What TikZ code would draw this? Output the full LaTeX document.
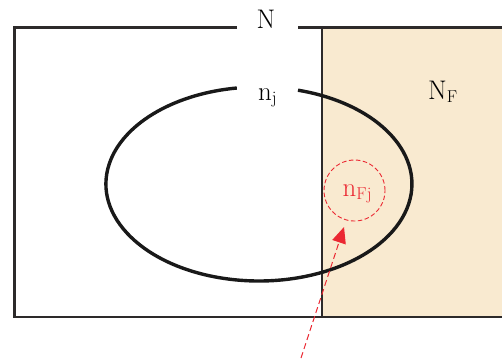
\documentclass[tikz,border=0pt]{standalone}
\usetikzlibrary{arrows.meta}
\definecolor{beige}{RGB}{249,234,208}
\definecolor{frame}{RGB}{45,42,42}
\definecolor{redc}{RGB}{235,40,50}
\tikzset{
  lbl/.style={font=\fontsize{27}{32}\selectfont, inner sep=0pt},
  redlbl/.style={lbl, text=redc},
}
\begin{document}
\begin{tikzpicture}[x=1bp,y=-1bp]
\useasboundingbox (0,0) rectangle (502,361);
\fill[beige] (322,28) rectangle (503,316);
% outer frame with gap
\draw[frame, line width=2.6bp] (237,27.5) -- (14.5,27.5) -- (14.5,317) -- (503,317);
\draw[frame, line width=2.6bp] (298,27.5) -- (503,27.5);
\draw[frame, line width=1.4bp] (322,27.5) -- (322,317);
\node[lbl, anchor=base] (N) at (266,28) {N};
\node[lbl, anchor=base west] (NF) at (428,99) {N$_\mathrm{F}$};
% ellipse with gap at top
\draw[black!90, line width=3.4bp] (298,90.2) arc[start angle=-75.2, end angle=261.7, x radius=153, y radius=97];
\node[lbl, anchor=base west] (nj) at (258,100) {n$_\mathrm{j}$};
% red circle
\node[draw=redc, dash pattern=on 4.5bp off 2.5bp, circle, minimum size=61bp, inner sep=0pt, line width=0.9bp] (c) at (354.5,190.5) {};
\node[redlbl, anchor=base west] (nFj) at (342.5,196) {n$_\mathrm{Fj}$};
\coordinate (tail) at (301,358);
\draw[redc, dash pattern=on 6bp off 3.5bp, line width=1bp, -{Triangle[length=16bp,width=14bp]}] (tail) -- (344,227);
\end{tikzpicture}
\end{document}
